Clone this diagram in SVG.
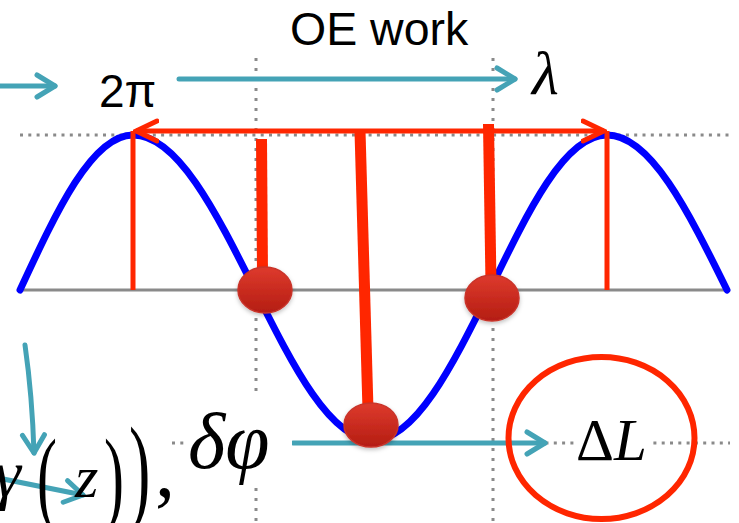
<svg xmlns="http://www.w3.org/2000/svg" width="739" height="523" viewBox="0 0 739 523">
<style>
.dot{stroke:#8a8a8a;stroke-width:3;fill:none}
.dh{stroke-dasharray:3 5.3}
.dv{stroke-dasharray:3 7}
.teal{stroke:#44a3b6;stroke-width:5;fill:none;stroke-linecap:round}
.red{stroke:#ff2600;fill:none}
.ser{font-family:"Liberation Serif","DejaVu Serif",serif;fill:#000}
.it{font-style:italic}
.sans{font-family:"Liberation Sans",Arial,sans-serif;fill:#000}
.ball{fill:url(#bg);stroke:#c9342a;stroke-width:1.5;filter:url(#sh)}
</style>
<defs>
<marker id="ta" viewBox="-2 -14 26 28" refX="20" refY="0" markerWidth="26" markerHeight="28" markerUnits="userSpaceOnUse" orient="auto">
<path d="M2,-11 L20,0 L2,11" fill="none" stroke="#44a3b6" stroke-width="5" stroke-linecap="round" stroke-linejoin="round"/>
</marker>
<marker id="ra" viewBox="-2 -14 26 28" refX="21" refY="0" markerWidth="26" markerHeight="28" markerUnits="userSpaceOnUse" orient="auto-start-reverse">
<path d="M0,-10 L21,0 L0,10" fill="none" stroke="#ff2600" stroke-width="5" stroke-linecap="round" stroke-linejoin="miter"/>
</marker>
<linearGradient id="bg" x1="0" y1="0" x2="0" y2="1">
<stop offset="0" stop-color="#de3a2d"/>
<stop offset="1" stop-color="#b41d12"/>
</linearGradient>
<filter id="sh" x="-30%" y="-30%" width="160%" height="170%">
<feDropShadow dx="0" dy="2" stdDeviation="2" flood-color="#000" flood-opacity="0.25"/>
</filter>
</defs>

<g id="grid">
<line class="dot dh" x1="20" y1="135" x2="729" y2="135"/>
<line class="dot dh" x1="172" y1="443" x2="730" y2="443"/>
<line class="dot dv" x1="256" y1="58" x2="256" y2="523"/>
<line class="dot dv" x1="493" y1="58" x2="493" y2="523"/>
<line x1="20" y1="290" x2="728" y2="290" stroke="#8a8a8a" stroke-width="3"/>
</g>

<g id="wave">
<path d="M20,290 C56.8,210.6 92.1,135 133,135 C177.2,135 215.2,210.6 255,290 C293.5,366.8 330.3,440 373,440 C415.3,440 451.8,366.8 490,290 C528.2,210.6 564.7,135 607,135 C650.4,135 687.9,210.6 727,290" fill="none" stroke="#0000ff" stroke-width="7" stroke-linecap="round"/>
</g>

<g id="red-lines">
<line class="red" x1="133" y1="131" x2="133" y2="290" stroke-width="5"/>
<line class="red" x1="607" y1="131" x2="607" y2="290" stroke-width="5"/>
<line class="red" x1="261.5" y1="139" x2="262.5" y2="275" stroke-width="11"/>
<line class="red" x1="360" y1="131" x2="368" y2="410" stroke-width="11"/>
<line class="red" x1="488.5" y1="124" x2="491" y2="285" stroke-width="11"/>
</g>

<g id="connectors">
<line class="red" x1="136" y1="131" x2="604" y2="131" stroke-width="5" marker-start="url(#ra)" marker-end="url(#ra)"/>
<line class="teal" x1="0" y1="86" x2="55" y2="86" marker-end="url(#ta)"/>
<line class="teal" x1="179" y1="79" x2="515" y2="79" marker-end="url(#ta)"/>
<line class="teal" x1="293" y1="443" x2="545" y2="443" marker-end="url(#ta)"/>
<path class="teal" d="M25,345 C30,380 33,420 34,453" marker-end="url(#ta)"/>
<line class="teal" x1="-2" y1="478" x2="83" y2="495" marker-end="url(#ta)"/>
</g>

<g id="label-oe"><text class="sans" x="290" y="45" font-size="46.5">OE work</text></g>
<g id="label-2pi"><text class="sans" x="99" y="107" font-size="46">2π</text></g>
<g id="label-lambda"><text class="ser it" x="532" y="94" font-size="62">λ</text></g>

<g id="label-dphi">
<rect x="188" y="395" width="104" height="92" fill="#fff"/>
<text class="ser it" x="188" y="468" font-size="80">δφ</text>
</g>

<g id="label-gamma">
<text class="ser it" x="-6" y="497" font-size="68">γ</text>
<text class="ser" transform="translate(37,512) scale(1,1.75)" font-size="60">(</text>
<text class="ser it" x="75" y="497" font-size="60">z</text>
<text class="ser" transform="translate(104,512) scale(1,1.75)" font-size="60">)</text>
<text class="ser" transform="translate(129,509) scale(1,1.85)" font-size="64">)</text>
<text class="ser" x="155" y="496" font-size="80">,</text>
</g>

<g id="label-dL">
<rect x="575" y="412" width="75" height="52" fill="#fff"/>
<text class="ser" x="576" y="460" font-size="59">Δ<tspan class="it">L</tspan></text>
</g>

<g id="balls">
<ellipse class="ball" cx="265" cy="290" rx="27" ry="23"/>
<ellipse class="ball" cx="492" cy="298" rx="27" ry="23"/>
<ellipse class="ball" cx="371" cy="425" rx="27" ry="22"/>
</g>

<g id="highlight">
<ellipse cx="601.5" cy="438" rx="93" ry="81" fill="none" stroke="#ff2600" stroke-width="6"/>
</g>
</svg>
